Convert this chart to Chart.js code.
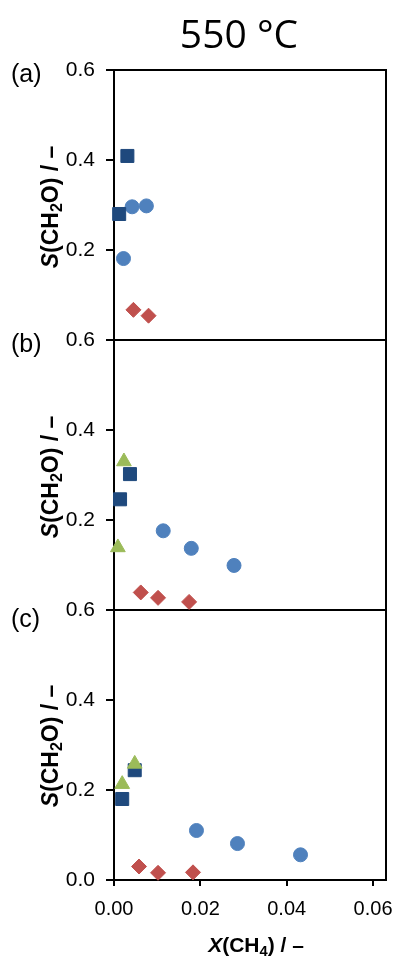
<!DOCTYPE html>
<html>
<head>
<meta charset="utf-8">
<script src="https://cdn.jsdelivr.net/npm/chart.js@4"></script>
<style>
    html, body { margin: 0; padding: 0; background: #fff; }
    #wrap { position: relative; width: 398px; height: 958px; overflow: hidden; }
    #chart { position: absolute; left: 0; top: 0; }
    .lbl { position: absolute; line-height: 1; white-space: nowrap; color: #000; font-family: "Liberation Sans", Arial, sans-serif; }
    .title { font-family: "Open Sans", sans-serif; font-size: 39px; left: 239px; top: 13px; transform: translateX(-50%); }
    .panel { font-size: 25px; left: 11px; }
    .ytitle { font-size: 23px; font-weight: bold; left: 50px; transform: translate(-50%, -50%) rotate(-90deg); }
    .xtitle { font-size: 21px; font-weight: bold; left: 256px; top: 934px; transform: translateX(-50%); }
    sub { font-size: 0.7em; vertical-align: -0.3em; line-height: 0; }
</style>
</head>
<body>
<div id="wrap">
    <canvas id="chart" width="398" height="958"></canvas>
    <div class="lbl title">550 °C</div>
    <div class="lbl panel" style="top:61px">(a)</div>
    <div class="lbl panel" style="top:331px">(b)</div>
    <div class="lbl panel" style="top:606px">(c)</div>
    <div class="lbl ytitle" style="top:207px"><i>S</i>(CH<sub>2</sub>O) / –</div>
    <div class="lbl ytitle" style="top:477px"><i>S</i>(CH<sub>2</sub>O) / –</div>
    <div class="lbl ytitle" style="top:746px"><i>S</i>(CH<sub>2</sub>O) / –</div>
    <div class="lbl xtitle"><i>X</i>(CH<sub>4</sub>) / –</div>
</div>
<script>
(function () {

    "use strict";

    // ejes
    var xTicks = [0, 0.02, 0.04, 0.06];
    var yTicks = [0, 0.2, 0.4, 0.6];

    // panel (a)
    var aSquares = [[0.0031, 0.409], [0.0012, 0.280]];
    var aCircles = [[0.0042, 0.296], [0.0075, 0.298], [0.0022, 0.181]];
    var aDiamonds = [[0.0045, 0.067], [0.0080, 0.054]];

    // panel (b)
    var bTriangles = [[0.0023, 0.330], [0.0009, 0.139]];
    var bSquares = [[0.0037, 0.302], [0.0014, 0.246]];
    var bCircles = [[0.0114, 0.176], [0.0179, 0.137], [0.0278, 0.099]];
    var bDiamonds = [[0.0062, 0.039], [0.0102, 0.027], [0.0174, 0.018]];

    // panel (c)
    var cTriangles = [[0.0019, 0.213], [0.0048, 0.258]];
    var cSquares = [[0.0019, 0.180], [0.0048, 0.244]];
    var cCircles = [[0.0191, 0.110], [0.0286, 0.081], [0.0432, 0.056]];
    var cDiamonds = [[0.0058, 0.030], [0.0102, 0.016], [0.0183, 0.017]];

    var markers = {
        triangle: { style: 'triangle', radius: 8.5, color: '#9BBB59' },
        square: { style: 'rect', radius: 9.2, color: '#1F497D' },
        diamond: { style: 'rectRot', radius: 7.5, color: '#C0504D' },
        circle: { style: 'circle', radius: 7, color: '#4F81BD' }
    };

    /**
     * Crea un dataset de puntos para un panel
     */
    function serie(points, kind, axis) {
        var m = markers[kind];
        return {
            data: points.map(function (p) { return { x: p[0], y: p[1] }; }),
            yAxisID: axis,
            pointStyle: m.style,
            pointRadius: m.radius,
            pointBackgroundColor: m.color,
            pointBorderColor: m.color,
            pointBorderWidth: 1,
            showLine: false,
            clip: false
        };
    }

    /**
     * Eje y de un panel apilado
     */
    function panelAxis(weight, showZero) {
        return {
            type: 'linear',
            position: 'left',
            stack: 'panels',
            stackWeight: 1,
            weight: weight,
            min: 0,
            max: 0.6,
            afterBuildTicks: function (s) {
                s.ticks = yTicks.map(function (v) { return { value: v }; });
            },
            afterFit: function (s) { s.width = 114; },
            ticks: {
                padding: 11,
                color: '#000',
                font: { family: 'Liberation Sans', size: 21 },
                callback: function (v) { return (v === 0 && !showZero) ? '' : v.toFixed(1); }
            },
            grid: {
                drawOnChartArea: true,
                color: function (c) { return c.tick && c.tick.value === 0.6 ? '#000' : 'rgba(0,0,0,0)'; },
                lineWidth: 2,
                tickLength: 8,
                tickColor: '#000',
                tickWidth: 2
            },
            border: { display: true, color: '#000', width: 2 }
        };
    }

    var datasets = [
        serie(aSquares, 'square', 'yA'),
        serie(aDiamonds, 'diamond', 'yA'),
        serie(aCircles, 'circle', 'yA'),
        serie(bTriangles, 'triangle', 'yB'),
        serie(bSquares, 'square', 'yB'),
        serie(bDiamonds, 'diamond', 'yB'),
        serie(bCircles, 'circle', 'yB'),
        serie(cTriangles, 'triangle', 'yC'),
        serie(cSquares, 'square', 'yC'),
        serie(cDiamonds, 'diamond', 'yC'),
        serie(cCircles, 'circle', 'yC')
    ];

    new Chart(document.getElementById('chart').getContext('2d'), {
        type: 'scatter',
        data: { datasets: datasets },
        options: {
            responsive: false,
            animation: false,
            devicePixelRatio: 1,
            layout: { padding: { top: 70, right: 12, bottom: 38, left: 0 } },
            plugins: { legend: { display: false }, tooltip: { enabled: false } },
            scales: {
                x: {
                    type: 'linear',
                    position: 'bottom',
                    min: 0,
                    max: 0.063,
                    afterBuildTicks: function (s) {
                        s.ticks = xTicks.map(function (v) { return { value: v }; });
                    },
                    afterFit: function (s) {
                        s.height = 40;
                        s.paddingLeft = 0;
                        s.paddingRight = 0;
                    },
                    ticks: {
                        padding: 11,
                        color: '#000',
                        maxRotation: 0,
                        font: { family: 'Liberation Sans', size: 20 },
                        callback: function (v) { return v.toFixed(2); }
                    },
                    grid: { drawOnChartArea: false, tickLength: 6, tickColor: '#000', lineWidth: 2 },
                    border: { display: true, color: '#000', width: 2 }
                },
                yA: panelAxis(3, false),
                yB: panelAxis(2, false),
                yC: panelAxis(1, true),
                yR: {
                    type: 'linear',
                    position: 'right',
                    min: 0,
                    max: 1,
                    ticks: { display: false },
                    grid: { display: false, drawTicks: false },
                    afterFit: function (s) { s.width = 0; },
                    border: { display: true, color: '#000', width: 2 }
                }
            }
        }
    });

})();
</script>
</body>
</html>
